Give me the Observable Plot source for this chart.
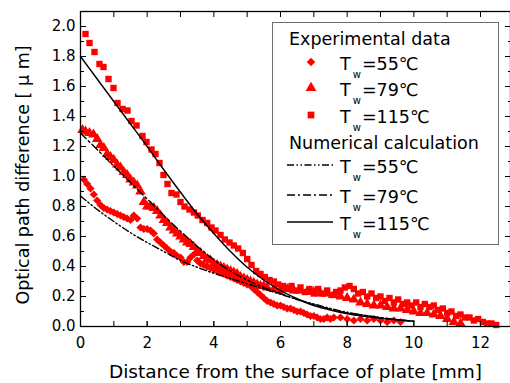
<!DOCTYPE html>
<html><head><meta charset="utf-8">
<script src="https://cdn.jsdelivr.net/npm/d3@7"></script>
<script src="https://cdn.jsdelivr.net/npm/@observablehq/plot@0.6"></script>
<style>html,body{margin:0;padding:0;background:#fff;overflow:hidden} svg{display:block}</style>
</head><body><div id="chart"></div>
<script>
// ---- Experimental data ----
const di_x = [0.1,0.2,0.3,0.4,0.5,0.6,0.7,0.8,0.9,1.0,1.1,1.2,1.3,1.4,1.5,1.6,1.7,1.8,1.9,2.0,2.1,2.2,2.3,2.4,2.5,2.6,2.7,2.8,2.9,3.0,3.1,3.2,3.3,3.4,3.5,3.6,3.7,3.8,3.9,4.0,4.1,4.2,4.3,4.4,4.5,4.6,4.7,4.8,4.9,5.0,5.1,5.2,5.3,5.4,5.5,5.6,5.7,5.8,5.9,6.0,6.1,6.2,6.3,6.4,6.5,6.6,6.7,6.8,6.9,7.0,7.1,7.2,7.3,7.4,7.5,7.6,7.8,8.0,8.2,8.4,8.6,8.8,9.0,9.2,9.4,9.6];
const di_y = [0.98,0.95,0.92,0.88,0.84,0.81,0.79,0.78,0.77,0.76,0.75,0.74,0.73,0.72,0.71,0.74,0.72,0.66,0.65,0.65,0.64,0.62,0.58,0.56,0.54,0.52,0.50,0.49,0.47,0.46,0.43,0.43,0.46,0.48,0.44,0.42,0.41,0.40,0.39,0.38,0.37,0.36,0.35,0.34,0.33,0.32,0.31,0.30,0.29,0.28,0.27,0.25,0.23,0.21,0.19,0.17,0.16,0.15,0.14,0.14,0.13,0.12,0.12,0.11,0.10,0.10,0.09,0.08,0.07,0.07,0.06,0.05,0.05,0.06,0.05,0.06,0.06,0.05,0.04,0.05,0.04,0.05,0.04,0.03,0.04,0.03];

const tr_x = [0.06,0.15,0.27,0.39,0.5,0.6,0.7,0.8,0.9,1.0,1.1,1.2,1.3,1.4,1.5,1.6,1.7,1.8,1.9,2.0,2.1,2.2,2.3,2.4,2.5,2.6,2.7,2.8,2.9,3.0,3.1,3.2,3.3,3.4,3.5,3.6,3.7,3.8,3.9,4.0,4.1,4.2,4.3,4.4,4.5,4.6,4.7,4.8,4.9,5.0,5.1,5.2,5.3,5.4,5.5,5.6,5.8,6.0,6.2,6.4,6.6,6.8,7.0,7.2,7.4,7.6,7.8,8.0,8.2,8.4,8.6,8.8,9.0,9.2,9.4,9.6,9.8,10.0,10.2,10.4,10.6,10.8,11.0,11.2,11.4];
const tr_y = [1.31,1.30,1.29,1.28,1.25,1.21,1.19,1.15,1.13,1.11,1.08,1.06,1.03,1.01,0.98,0.96,0.94,0.90,0.83,0.80,0.80,0.79,0.77,0.74,0.71,0.69,0.66,0.64,0.62,0.60,0.58,0.56,0.55,0.53,0.50,0.49,0.47,0.45,0.44,0.42,0.41,0.40,0.39,0.38,0.37,0.36,0.35,0.33,0.32,0.31,0.30,0.29,0.28,0.27,0.27,0.26,0.25,0.24,0.25,0.24,0.24,0.23,0.23,0.22,0.22,0.21,0.20,0.19,0.18,0.16,0.15,0.14,0.14,0.13,0.12,0.12,0.11,0.10,0.09,0.09,0.08,0.07,0.05,0.03,0.02];

const sq_x = [0.15,0.27,0.42,0.57,0.69,0.84,0.99,1.11,1.26,1.41,1.53,1.68,1.86,1.98,2.13,2.25,2.37,2.49,2.61,2.73,2.88,3.0,3.12,3.27,3.4,3.52,3.66,3.8,3.93,4.05,4.2,4.33,4.47,4.6,4.73,4.87,5.0,5.13,5.27,5.4,5.53,5.67,5.8,5.93,6.07,6.2,6.33,6.47,6.6,6.73,6.87,7.0,7.13,7.27,7.4,7.53,7.67,7.8,7.93,8.07,8.2,8.33,8.47,8.6,8.73,8.87,9.0,9.13,9.27,9.4,9.53,9.67,9.8,9.93,10.07,10.2,10.33,10.47,10.6,10.73,10.87,11.0,11.13,11.27,11.4,11.53,11.67,11.8,11.93,12.07,12.2,12.33,12.47];
const sq_y = [1.95,1.89,1.83,1.75,1.73,1.65,1.59,1.49,1.45,1.44,1.37,1.34,1.27,1.23,1.18,1.15,1.09,1.01,0.95,0.89,0.88,0.83,0.80,0.78,0.76,0.74,0.71,0.69,0.66,0.64,0.61,0.58,0.56,0.54,0.52,0.49,0.45,0.41,0.37,0.35,0.33,0.31,0.30,0.28,0.27,0.25,0.27,0.24,0.26,0.23,0.25,0.22,0.25,0.22,0.24,0.21,0.23,0.24,0.26,0.27,0.25,0.22,0.23,0.20,0.22,0.19,0.20,0.17,0.19,0.16,0.18,0.15,0.16,0.14,0.16,0.13,0.15,0.13,0.14,0.11,0.12,0.09,0.10,0.07,0.08,0.06,0.06,0.04,0.05,0.03,0.02,0.02,0.01];

// ---- Numerical calculation ----
const calc_x   = [0,0.5,1,1.5,2,2.5,3,3.5,4,4.5,5,5.5,6,6.5,7,7.5,8,8.5,9,9.5,10];
const calc_55  = [0.87,0.78,0.70,0.625,0.56,0.50,0.44,0.395,0.355,0.32,0.285,0.25,0.215,0.18,0.15,0.12,0.095,0.075,0.058,0.045,0.035];
const calc_79  = [1.29,1.18,1.07,0.96,0.85,0.74,0.635,0.535,0.445,0.37,0.31,0.26,0.22,0.18,0.145,0.115,0.09,0.075,0.06,0.045,0.035];
const calc_115 = [1.80,1.65,1.50,1.35,1.20,1.045,0.895,0.75,0.62,0.50,0.395,0.31,0.24,0.185,0.14,0.11,0.085,0.068,0.055,0.045,0.035];

// ---- Ticks & labels ----
const xMajor = [0,2,4,6,8,10,12];
const xMinor = [0,1,2,3,4,5,6,7,8,9,10,11,12];
const yMajor = [0,0.2,0.4,0.6,0.8,1.0,1.2,1.4,1.6,1.8,2.0];
const yMinor = [0.1,0.3,0.5,0.7,0.9,1.1,1.3,1.5,1.7,1.9];
const xTitle = "Distance from the surface of plate [mm]";
const yTitle = "Optical path difference [ μ m]";
const legendExp = "Experimental data";
const legendNum = "Numerical calculation";
const seriesLabels = ["=55℃", "=79℃", "=115℃"];

const FONT = "'DejaVu Sans', sans-serif";
const RED = "#ff0000";
const rows = (xs, ys) => xs.map((x, i) => ({x, y: ys[i]}));
const dash55 = "7,2.5,1.5,2.5,1.5,2.5";
const dash79 = "8,3,2,3";

const svg = Plot.plot({
  width: 510, height: 383,
  marginLeft: 80, marginRight: 0, marginTop: 11, marginBottom: 57,
  style: {fontFamily: FONT, background: "white", color: "black"},
  x: {domain: [0, 12.9]},
  y: {domain: [0, 2.1]},
  marks: [
    Plot.dot(rows(di_x, di_y), {x: "x", y: "y", symbol: "diamond2", r: 3.7, fill: RED}),
    Plot.dot(rows(tr_x, tr_y), {x: "x", y: "y", symbol: "triangle", r: 3.9, fill: RED}),
    Plot.dot(rows(sq_x, sq_y), {x: "x", y: "y", symbol: "square", r: 3.6, fill: RED}),
    Plot.line(rows(calc_x, calc_55), {x: "x", y: "y", stroke: "black", strokeWidth: 1.4, strokeDasharray: dash55, curve: "monotone-x"}),
    Plot.line(rows(calc_x, calc_79), {x: "x", y: "y", stroke: "black", strokeWidth: 1.4, strokeDasharray: dash79, curve: "monotone-x"}),
    Plot.line(rows(calc_x, calc_115), {x: "x", y: "y", stroke: "black", strokeWidth: 1.4, curve: "monotone-x"}),
    Plot.frame({stroke: "black", strokeWidth: 1.3}),
    Plot.axisX({anchor: "bottom", ticks: xMajor, tickSize: -5, tickPadding: 16, fontSize: 15, label: null, tickFormat: d => String(d)}),
    Plot.axisX({anchor: "bottom", ticks: xMinor, tickSize: -5, tickFormat: () => "", label: null}),
    Plot.axisX({anchor: "top", ticks: xMinor, tickSize: -5, tickFormat: () => "", label: null}),
    Plot.axisY({anchor: "left", ticks: yMajor, tickSize: -6, tickPadding: 11, fontSize: 15, label: null, tickFormat: d3.format(".1f")}),
    Plot.axisY({anchor: "left", ticks: yMinor, tickSize: -4, tickFormat: () => "", label: null}),
    Plot.axisY({anchor: "right", ticks: yMajor, tickSize: -6, tickFormat: () => "", label: null}),
    Plot.axisY({anchor: "right", ticks: yMinor, tickSize: -3, tickFormat: () => "", label: null}),
    Plot.text([xTitle], {frameAnchor: "bottom", dy: 51, lineAnchor: "bottom", textAnchor: "middle", fontSize: 18.5, text: d => d}),
    Plot.text([yTitle], {frameAnchor: "left", dx: -52, dy: 6, rotate: -90, lineAnchor: "bottom", textAnchor: "middle", fontSize: 17.5, text: d => d})
  ]
});
document.getElementById("chart").appendChild(svg);

// ---- Legend (inside the plot frame) ----
const g = d3.select(svg).append("g").attr("font-family", FONT).attr("fill", "black").attr("text-anchor", "start");
g.append("rect").attr("x", 272.5).attr("y", 22.5).attr("width", 226).attr("height", 222)
  .attr("fill", "white").attr("stroke", "#6e6e6e").attr("stroke-width", 1);
g.append("text").attr("x", 289).attr("y", 45).attr("font-size", 17.5).text(legendExp);
g.append("text").attr("x", 289).attr("y", 149).attr("font-size", 17.5).text(legendNum);
const symbols = [d3.symbolDiamond2, d3.symbolTriangle, d3.symbolSquare];
const rSym = [3.8, 4.0, 3.8];
const markY = [62, 88, 115];
const lineY = [165, 195, 222];
const dashes = [dash55, dash79, null];
function label(y, s) {
  const t = g.append("text").attr("x", 340).attr("y", y).attr("font-size", 17.5);
  t.append("tspan").text("T");
  t.append("tspan").attr("font-size", 10).attr("dx", 2).attr("dy", 8).text("w");
  t.append("tspan").attr("dy", -8).attr("dx", 1).text(s);
}
seriesLabels.forEach((s, i) => {
  g.append("path").attr("transform", `translate(311,${markY[i]})`)
    .attr("d", d3.symbol(symbols[i], Math.PI * rSym[i] * rSym[i])()).attr("fill", RED);
  label(markY[i] + 8, s);
  const ln = g.append("line").attr("x1", 287).attr("x2", 333).attr("y1", lineY[i]).attr("y2", lineY[i])
    .attr("stroke", "black").attr("stroke-width", 1.4);
  if (dashes[i]) ln.attr("stroke-dasharray", dashes[i]);
  label(lineY[i] + 8, s);
});
</script>
</body></html>
